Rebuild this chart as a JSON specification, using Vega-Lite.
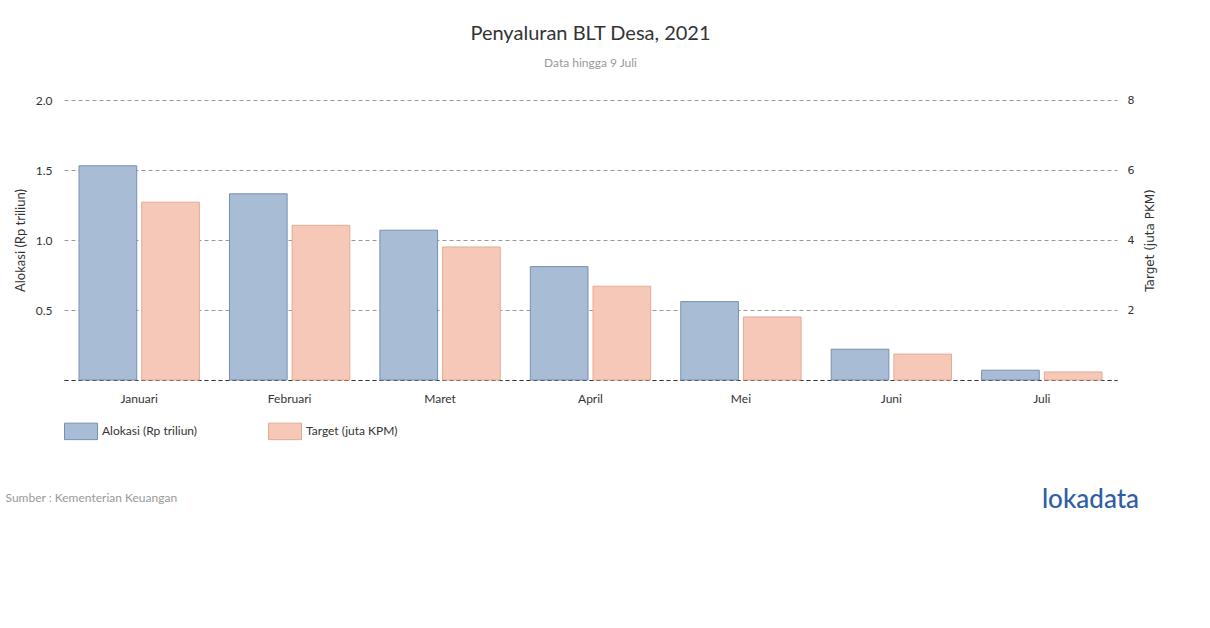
{
  "$schema": "https://vega.github.io/schema/vega-lite/v6.json",
  "width": 1053,
  "height": 280,
  "autosize": {"type": "none"},
  "padding": {"left": 64, "top": 100, "right": 93, "bottom": 248},
  "background": "white",
  "title": {
    "text": "Penyaluran BLT Desa, 2021",
    "subtitle": "Data hingga 9 Juli",
    "anchor": "middle",
    "font": "Lato",
    "fontSize": 20,
    "fontWeight": "normal",
    "color": "#333333",
    "subtitleFont": "Lato",
    "subtitleFontSize": 12,
    "subtitleColor": "#999999",
    "subtitlePadding": 14,
    "offset": 25
  },
  "config": {
    "view": {"stroke": null},
    "font": "Lato"
  },
  "data": {
    "values": [
      {"bulan": "Januari", "seri": "Alokasi (Rp triliun)", "nilai": 1.53},
      {"bulan": "Februari", "seri": "Alokasi (Rp triliun)", "nilai": 1.33},
      {"bulan": "Maret", "seri": "Alokasi (Rp triliun)", "nilai": 1.07},
      {"bulan": "April", "seri": "Alokasi (Rp triliun)", "nilai": 0.81},
      {"bulan": "Mei", "seri": "Alokasi (Rp triliun)", "nilai": 0.56},
      {"bulan": "Juni", "seri": "Alokasi (Rp triliun)", "nilai": 0.22},
      {"bulan": "Juli", "seri": "Alokasi (Rp triliun)", "nilai": 0.07},
      {"bulan": "Januari", "seri": "Target (juta KPM)", "nilai": 5.08},
      {"bulan": "Februari", "seri": "Target (juta KPM)", "nilai": 4.42},
      {"bulan": "Maret", "seri": "Target (juta KPM)", "nilai": 3.8},
      {"bulan": "April", "seri": "Target (juta KPM)", "nilai": 2.68},
      {"bulan": "Mei", "seri": "Target (juta KPM)", "nilai": 1.8},
      {"bulan": "Juni", "seri": "Target (juta KPM)", "nilai": 0.74},
      {"bulan": "Juli", "seri": "Target (juta KPM)", "nilai": 0.23}
    ]
  },
  "encoding": {
    "x": {
      "field": "bulan",
      "type": "nominal",
      "sort": ["Januari", "Februari", "Maret", "April", "Mei", "Juni", "Juli"],
      "scale": {"paddingInner": 0.2, "paddingOuter": 0.1}
    },
    "xOffset": {
      "field": "seri",
      "type": "nominal",
      "scale": {"domain": ["Alokasi (Rp triliun)", "Target (juta KPM)"], "paddingInner": 0.08}
    },
    "color": {
      "field": "seri",
      "type": "nominal",
      "scale": {"domain": ["Alokasi (Rp triliun)", "Target (juta KPM)"], "range": ["#a9bcd6", "#f6c8b8"]},
      "legend": {
        "title": null,
        "orient": "none",
        "legendX": 0,
        "legendY": 314,
        "direction": "horizontal",
        "symbolType": "M-1,-0.5H1V0.5H-1Z",
        "symbolSize": 1089,
        "symbolStrokeWidth": 1,
        "labelFont": "Lato",
        "labelFontSize": 12,
        "labelColor": "#333333",
        "labelOffset": 4,
        "columnPadding": 68
      }
    },
    "stroke": {
      "field": "seri",
      "type": "nominal",
      "scale": {"domain": ["Alokasi (Rp triliun)", "Target (juta KPM)"], "range": ["#7890b0", "#e6a994"]},
      "legend": null
    }
  },
  "layer": [
    {
      "transform": [{"filter": "datum.seri === 'Alokasi (Rp triliun)'"}],
      "mark": {"type": "bar", "strokeWidth": 1, "opacity": 1},
      "encoding": {
        "x": {
          "field": "bulan",
          "type": "nominal",
          "sort": ["Januari", "Februari", "Maret", "April", "Mei", "Juni", "Juli"],
          "axis": {
            "orient": "bottom",
            "labelAngle": 0,
            "labelFont": "Lato",
            "labelFontSize": 12,
            "labelColor": "#333333",
            "labelPadding": 13,
            "ticks": false,
            "domain": true,
            "domainColor": "#333333",
            "domainDash": [4, 3],
            "domainWidth": 1,
            "grid": false,
            "title": "Sumber : Kementerian Keuangan",
            "titleFont": "Lato",
            "titleFontSize": 12,
            "titleFontWeight": "normal",
            "titleColor": "#999999",
            "titleAlign": "left",
            "titleBaseline": "middle",
            "titleX": -59,
            "titleY": 117
          }
        },
        "y": {
          "field": "nilai",
          "type": "quantitative",
          "scale": {"domain": [0, 2], "nice": false},
          "axis": {
            "orient": "left",
            "values": [0, 0.5, 1, 1.5, 2],
            "format": ".1f",
            "labelExpr": "datum.value == 0 ? '' : datum.label",
            "labelFont": "Lato",
            "labelFontSize": 12,
            "labelColor": "#333333",
            "labelPadding": 12,
            "ticks": false,
            "domain": false,
            "grid": true,
            "gridColor": "#999999",
            "gridDash": [4, 3],
            "gridWidth": 1,
            "title": "Alokasi (Rp triliun)",
            "titleFont": "Lato",
            "titleFontSize": 13,
            "titleFontWeight": "normal",
            "titleColor": "#333333",
            "titlePadding": 8
          }
        }
      }
    },
    {
      "transform": [{"filter": "datum.seri === 'Target (juta KPM)'"}],
      "mark": {"type": "bar", "strokeWidth": 1, "opacity": 1},
      "encoding": {
        "x": {
          "field": "bulan",
          "type": "nominal",
          "sort": ["Januari", "Februari", "Maret", "April", "Mei", "Juni", "Juli"],
          "axis": {
            "orient": "top",
            "labels": false,
            "ticks": false,
            "domain": false,
            "grid": false,
            "title": "lokadata",
            "titleFont": "Lato",
            "titleFontSize": 26,
            "titleFontWeight": 500,
            "titleColor": "#2e5ea6",
            "titleAlign": "center",
            "titleBaseline": "middle",
            "titleX": 1026,
            "titleY": 399
          }
        },
        "y": {
          "field": "nilai",
          "type": "quantitative",
          "scale": {"domain": [0, 8], "nice": false},
          "axis": {
            "orient": "right",
            "values": [0, 2, 4, 6, 8],
            "labelExpr": "datum.value == 0 ? '' : datum.label",
            "labelFont": "DejaVu Sans",
            "labelFontSize": 11,
            "labelColor": "#333333",
            "labelPadding": 10,
            "ticks": false,
            "domain": false,
            "grid": false,
            "title": "Target (juta PKM)",
            "titleFont": "DejaVu Sans",
            "titleFontSize": 12,
            "titleFontWeight": "normal",
            "titleColor": "#333333",
            "titleAngle": 270,
            "titlePadding": 23
          }
        }
      }
    }
  ],
  "resolve": {
    "scale": {"y": "independent"},
    "axis": {"x": "independent", "y": "independent"}
  }
}
